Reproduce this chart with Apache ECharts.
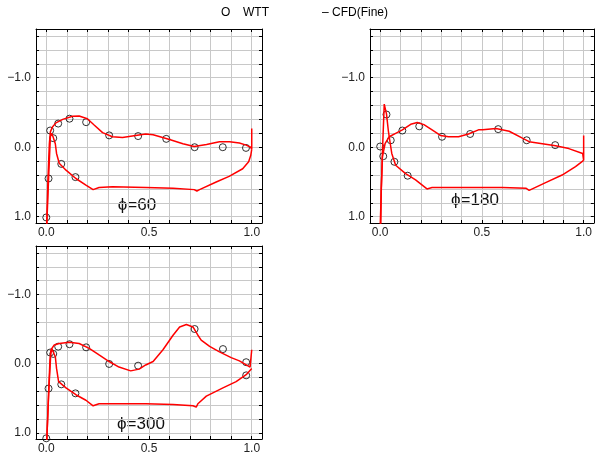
<!DOCTYPE html>
<html lang="en">
<head>
    <meta charset="UTF-8">
    <title>Cp distribution</title>
</head>
<body style="margin:0">
    <div id="main" style="width:595px;height:459px"></div>
    <script src="https://cdn.jsdelivr.net/npm/echarts@6/dist/echarts.min.js"></script>
    <script type="text/javascript">
       // tick / label positions
       var xTicks = [0, 0.1, 0.2, 0.3, 0.4, 0.5, 0.6, 0.7, 0.8, 0.9, 1.0];
       var xLabels = [0, 0.5, 1.0];
       var yTicks = [-1.6, -1.4, -1.2, -1.0, -0.8, -0.6, -0.4, -0.2, 0, 0.2, 0.4, 0.6, 0.8, 1.0];
       var yLabels = [-1.0, 0, 1.0];
       var panelNames = ['ϕ=60', 'ϕ=180', 'ϕ=300'];

       // phi = 60
       var wtt60 = [[0, 1.01], [0.011, 0.45], [0.019, -0.24], [0.034, -0.13], [0.058, -0.34], [0.073, 0.24],
           [0.113, -0.41], [0.142, 0.43], [0.194, -0.36], [0.306, -0.17], [0.447, -0.16], [0.584, -0.12],
           [0.722, 0.0], [0.859, 0.0], [0.972, 0.01]];
       var upper60 = [[0.002, 1.15], [0.008, 0.47], [0.015, -0.05], [0.02, -0.22], [0.03, -0.29], [0.047, -0.35],
           [0.08, -0.40], [0.128, -0.445], [0.16, -0.45], [0.2, -0.41], [0.233, -0.32], [0.274, -0.21],
           [0.322, -0.15], [0.371, -0.14], [0.435, -0.17], [0.484, -0.19], [0.52, -0.18], [0.6, -0.11],
           [0.665, -0.05], [0.72, -0.01], [0.78, -0.04], [0.843, -0.08], [0.892, -0.08], [0.94, -0.06],
           [0.973, -0.03], [0.995, 0.0], [1.0, 0.03], [1.0, -0.27]];
       var lower60 = [[0.002, 1.15], [0.012, 0.4], [0.02, -0.15], [0.026, -0.2], [0.033, -0.15], [0.044, -0.05],
           [0.05, 0.09], [0.063, 0.23], [0.096, 0.33], [0.144, 0.45], [0.193, 0.545], [0.228, 0.61],
           [0.257, 0.58], [0.322, 0.57], [0.484, 0.58], [0.617, 0.59], [0.72, 0.61], [0.733, 0.63],
           [0.746, 0.61], [0.827, 0.50], [0.89, 0.42], [0.956, 0.31], [0.985, 0.21], [0.995, 0.12], [1.0, 0.03]];

       // phi = 180
       var wtt180 = [[0, -0.01], [0.015, 0.13], [0.031, -0.47], [0.052, -0.10], [0.07, 0.21], [0.109, -0.24],
           [0.135, 0.41], [0.192, -0.30], [0.304, -0.15], [0.442, -0.19], [0.58, -0.26], [0.72, -0.10],
           [0.86, -0.03]];
       var upper180 = [[0.003, 1.15], [0.005, 0.62], [0.011, 0.14], [0.024, -0.05], [0.044, -0.15], [0.076, -0.2],
           [0.109, -0.25], [0.15, -0.33], [0.182, -0.355], [0.215, -0.325], [0.255, -0.25], [0.296, -0.17],
           [0.336, -0.15], [0.385, -0.15], [0.434, -0.19], [0.483, -0.25], [0.504, -0.25], [0.569, -0.27],
           [0.634, -0.23], [0.699, -0.13], [0.732, -0.08], [0.797, -0.05], [0.862, -0.02], [0.927, 0.02],
           [0.995, 0.09], [1.0, 0.19], [1.0, -0.17]];
       var lower180 = [[0.0, 1.15], [0.012, 0.0], [0.02, -0.62], [0.031, -0.48], [0.04, -0.24], [0.047, -0.1],
           [0.057, 0.09], [0.076, 0.26], [0.125, 0.38], [0.174, 0.47], [0.23, 0.6], [0.255, 0.58],
           [0.44, 0.58], [0.6, 0.58], [0.716, 0.59], [0.732, 0.62], [0.813, 0.51], [0.894, 0.40],
           [0.96, 0.28], [1.0, 0.19]];

       // phi = 300
       var wtt300 = [[0, 1.08], [0.011, 0.36], [0.019, -0.16], [0.034, -0.14], [0.058, -0.245], [0.073, 0.30],
           [0.113, -0.28], [0.142, 0.43], [0.194, -0.235], [0.306, 0.005], [0.447, 0.03], [0.722, -0.50],
           [0.86, -0.21], [0.973, -0.02], [0.973, 0.17]];
       var upper300 = [[0.002, 1.15], [0.012, 0.38], [0.018, -0.05], [0.023, -0.2], [0.039, -0.27], [0.063, -0.29],
           [0.112, -0.31], [0.16, -0.29], [0.209, -0.22], [0.257, -0.125], [0.306, -0.03], [0.354, 0.05],
           [0.411, 0.105], [0.452, 0.08], [0.484, 0.02], [0.52, -0.03], [0.568, -0.2], [0.617, -0.41],
           [0.649, -0.53], [0.682, -0.565], [0.714, -0.53], [0.738, -0.41], [0.754, -0.34], [0.795, -0.25],
           [0.843, -0.17], [0.9, -0.086], [0.94, -0.04], [0.992, 0.05], [1.0, 0.07], [1.0, -0.2]];
       var lower300 = [[0.002, 1.15], [0.012, 0.4], [0.022, -0.15], [0.028, -0.21], [0.044, -0.1], [0.05, 0.07],
           [0.06, 0.26], [0.096, 0.35], [0.144, 0.45], [0.193, 0.53], [0.228, 0.61], [0.257, 0.58],
           [0.484, 0.58], [0.617, 0.59], [0.714, 0.61], [0.73, 0.63], [0.738, 0.58], [0.779, 0.47],
           [0.86, 0.35], [0.924, 0.26], [0.973, 0.16], [1.0, 0.07]];

       var panels = [
           {wtt: wtt60, upper: upper60, lower: lower60},
           {wtt: wtt180, upper: upper180, lower: lower180},
           {wtt: wtt300, upper: upper300, lower: lower300}
       ];

       var myChart = echarts.init(document.getElementById('main'));

       var font = 'Liberation Sans, Arial, sans-serif';
       var grids = [
           {left: 36, top: 29, width: 226, height: 194},
           {left: 370, top: 29, width: 225, height: 194},
           {left: 36, top: 246, width: 226, height: 193}
       ];

       function fmt(v) {
           if (v === 0) return '0.0';
           return (v < 0 ? '\u2212' : '') + Math.abs(v).toFixed(1);
       }

       var xAxes = [], yAxes = [], series = [];
       grids.forEach(function (g, i) {
           // bottom x axis with labels + grid lines
           xAxes.push({
               type: 'value', gridIndex: i, position: 'bottom', min: -0.05, max: 1.05,
               axisLine: {show: true, onZero: false, lineStyle: {color: '#000', width: 1}},
               axisTick: {show: true, inside: true, length: 3, customValues: xTicks, lineStyle: {color: '#000'}},
               axisLabel: {customValues: xLabels, formatter: fmt, color: '#222', fontSize: 12, fontFamily: font, margin: 4},
               splitLine: {show: true, lineStyle: {color: '#c8c8c8', width: 1}}
           });
           // top frame
           xAxes.push({
               type: 'value', gridIndex: i, position: 'top', min: -0.05, max: 1.05,
               axisLine: {show: true, onZero: false, lineStyle: {color: '#000', width: 1}},
               axisTick: {show: true, inside: true, length: 3, customValues: xTicks, lineStyle: {color: '#000'}},
               axisLabel: {show: false},
               splitLine: {show: false}
           });
           yAxes.push({
               type: 'value', gridIndex: i, position: 'left', inverse: true, min: -1.7, max: 1.09,
               axisLine: {show: true, onZero: false, lineStyle: {color: '#000', width: 1}},
               axisTick: {show: true, inside: true, length: 3, customValues: yTicks, lineStyle: {color: '#000'}},
               axisLabel: {customValues: yLabels, formatter: fmt, color: '#222', fontSize: 12, fontFamily: font, margin: 5},
               splitLine: {show: true, lineStyle: {color: '#c8c8c8', width: 1}}
           });
           yAxes.push({
               type: 'value', gridIndex: i, position: 'right', inverse: true, min: -1.7, max: 1.09,
               axisLine: {show: true, onZero: false, lineStyle: {color: '#000', width: 1}},
               axisTick: {show: true, inside: true, length: 3, customValues: yTicks, lineStyle: {color: '#000'}},
               axisLabel: {show: false},
               splitLine: {show: false}
           });

           var p = panels[i];
           series.push({
               name: 'CFD(Fine)', type: 'line', xAxisIndex: i * 2, yAxisIndex: i * 2,
               data: p.upper, showSymbol: false, smooth: false,
               lineStyle: {color: '#ff0000', width: 1.5}
           });
           series.push({
               name: 'CFD(Fine)', type: 'line', xAxisIndex: i * 2, yAxisIndex: i * 2,
               data: p.lower, showSymbol: false, smooth: false,
               lineStyle: {color: '#ff0000', width: 1.5}
           });
           series.push({
               name: 'WTT', type: 'scatter', xAxisIndex: i * 2, yAxisIndex: i * 2,
               data: p.wtt, symbol: 'circle', symbolSize: 7,
               itemStyle: {color: 'rgba(0,0,0,0)', borderColor: '#000', borderWidth: 1}
           });
       });

       var option = {
           animation: false,
           backgroundColor: '#fff',
           grid: grids,
           xAxis: xAxes,
           yAxis: yAxes,
           series: series,
           graphic: [
               {type: 'text', left: 221, top: 7, style: {text: 'O', font: '12px ' + font, fill: '#000'}},
               {type: 'text', left: 243, top: 7, style: {text: 'WTT', font: '12px ' + font, fill: '#000'}},
               {type: 'text', left: 322, top: 7, style: {text: '\u2013 CFD(Fine)', font: '12px ' + font, fill: '#000'}},
               {type: 'text', x: 137, y: 205, style: {text: panelNames[0], font: '17px ' + font, fill: '#111', align: 'center', verticalAlign: 'middle'}},
               {type: 'text', x: 475, y: 200, style: {text: panelNames[1], font: '17px ' + font, fill: '#111', align: 'center', verticalAlign: 'middle'}},
               {type: 'text', x: 141, y: 424, style: {text: panelNames[2], font: '17px ' + font, fill: '#111', align: 'center', verticalAlign: 'middle'}}
           ]
       };
       myChart.setOption(option);
    </script>
</body>
</html>
